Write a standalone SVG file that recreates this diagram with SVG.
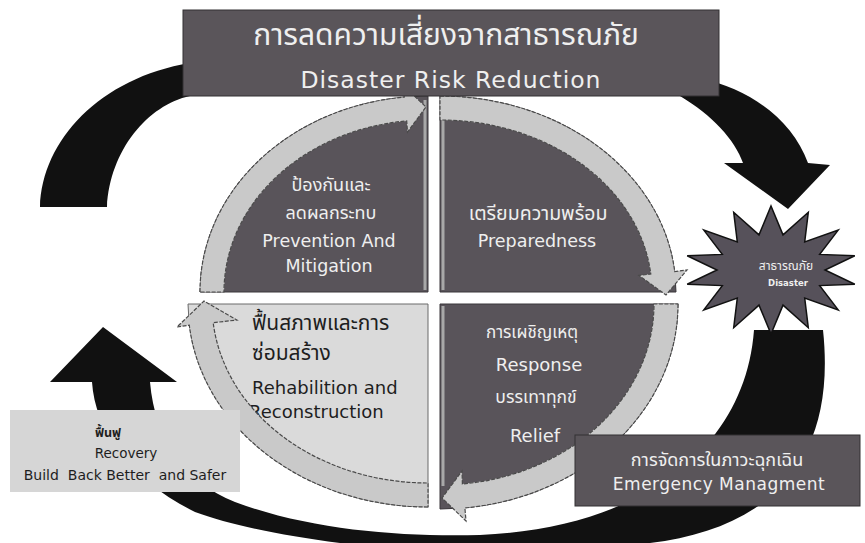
<svg xmlns="http://www.w3.org/2000/svg" width="865" height="543" viewBox="0 0 865 543">
<style>
.dark{fill:#59545a;stroke:#3a373b;stroke-width:1}
.light{fill:#dadada;stroke:#6a6a6a;stroke-width:1}
.rib{fill:#c9c9c9;stroke:#4a4a4a;stroke-width:1.2;stroke-dasharray:4 1.5}
.strip{stroke:#a8a8a8;stroke-width:3}
.blk{fill:#111111}
.box{fill:#5a555a;stroke:#333033;stroke-width:1}
.th{font-family:"Noto Sans Thai","Tahoma","Loma","Garuda","Noto Sans","DejaVu Sans",sans-serif}
.en{font-family:"DejaVu Sans","Liberation Sans",sans-serif}
.w{fill:#efefef}
.k{fill:#1e1e1e}
text{text-anchor:middle}
</style>
<rect width="865" height="543" fill="#ffffff"/>

<g id="connectors">
  <path class="blk" d="M 40 207 C 42 140 100 78 190 63 L 190 96 C 148 105 110 150 107 207 Z"/>
  <path class="blk" d="M 680 96 L 700 78 C 752 90 792 120 808 163 L 830 165 L 788 209 L 724 163 L 743 163 C 735 140 712 115 680 96 Z"/>
  <path class="blk" d="M 103 327 L 177 382 L 150 382 C 155 440 185 482 235 502 C 310 530 400 537 480 535 C 640 528 745 450 754 330 L 823 330 C 838 470 760 530 650 543 C 560 562 420 563 340 543 C 280 535 230 525 195 512 C 130 480 95 430 92 382 L 50 382 Z"/>
</g>

<g id="prevention">
  <path class="dark" d="M 428 292 L 200 292 A 228 196 0 0 1 428 96 Z"/>
  <line class="strip" x1="425" y1="100" x2="425" y2="290"/>
  <path class="rib" d="M 200 292 A 228 196 0 0 1 404.2 97.1 L 403.5 86 L 426 107 L 407.5 132 L 406.7 120.9 A 204 172 0 0 0 224 292 Z"/>
  <text class="th w" x="331" y="191" font-size="18">ป้องกันและ</text>
  <text class="th w" x="331" y="219" font-size="18">ลดผลกระทบ</text>
  <text class="en w" x="329" y="247" font-size="17.5">Prevention And</text>
  <text class="en w" x="329" y="272" font-size="17.5">Mitigation</text>
</g>

<g id="preparedness">
  <path class="dark" d="M 440 292 L 440 96 A 236 196 0 0 1 676 292 Z"/>
  <line class="strip" x1="443" y1="118" x2="443" y2="290"/>
  <path class="rib" d="M 440 96 A 236 196 0 0 1 674.7 271.5 L 687 270 L 666 295 L 639 275.5 L 650.8 274 A 212 172 0 0 0 440 120 Z"/>
  <text class="th w" x="538" y="220" font-size="19.5">เตรียมความพร้อม</text>
  <text class="en w" x="537" y="247" font-size="17.5">Preparedness</text>
</g>

<g id="response">
  <path class="dark" d="M 440 304 L 678 304 A 238 205 0 0 1 440 509 Z"/>
  <line class="strip" x1="443" y1="306" x2="443" y2="486"/>
  <path class="rib" d="M 678 304 A 238 205 0 0 1 464.9 507.9 L 466 521 L 442 498 L 462 471 L 462.4 484 A 214 181 0 0 0 654 304 Z"/>
  <text class="th w" x="532" y="338" font-size="17">การเผชิญเหตุ</text>
  <text class="en w" x="539" y="371" font-size="18">Response</text>
  <text class="th w" x="536" y="403" font-size="17.5">บรรเทาทุกข์</text>
  <text class="en w" x="535" y="442" font-size="18">Relief</text>
</g>

<g id="rehabilitation">
  <path class="light" d="M 428 304 L 428 507 A 240 203 0 0 1 188 304 Z"/>
  <text class="th k" x="252" y="330" font-size="21" style="text-anchor:start">ฟื้นสภาพและการ</text>
  <text class="th k" x="252" y="360" font-size="21" style="text-anchor:start">ซ่อมสร้าง</text>
  <text class="en k" x="252" y="394" font-size="18" style="text-anchor:start">Rehabilition and</text>
  <text class="en k" x="249" y="418" font-size="18" style="text-anchor:start">Reconstruction</text>
  <path class="rib" d="M 428 507 A 240 203 0 0 1 189.3 325.2 L 177 327 L 204 301 L 237 320 L 213.2 322.7 A 216 179 0 0 0 428 483 Z"/>
</g>

<g id="title">
  <rect class="box" x="183" y="10" width="536" height="86"/>
  <text class="th w" x="446" y="45" font-size="30">การลดความเสี่ยงจากสาธารณภัย</text>
  <text class="en w" x="451" y="88" font-size="23.5" letter-spacing="1">Disaster Risk Reduction</text>
</g>

<g id="disaster">
  <polygon fill="#56515a" stroke="#111" stroke-width="1.5" points="771,206 783,234.9 808.3,212.3 804.7,241.9 838.2,230.1 819.7,254.4 854.8,255.8 825,270 854.8,284.2 819.7,285.6 838.2,309.9 804.7,298.1 808.3,327.7 783,305.1 771,334 759,305.1 733.7,327.7 737.3,298.1 703.8,309.9 722.3,285.6 687.2,284.2 717,270 687.2,255.8 722.3,254.4 703.8,230.1 737.3,241.9 733.7,212.3 759,234.9"/>
  <text class="th w" x="786" y="270" font-size="12">สาธารณภัย</text>
  <text class="en w" x="788" y="286" font-size="8.5" font-weight="bold">Disaster</text>
</g>

<g id="emergency">
  <rect class="box" x="575" y="435" width="285" height="71"/>
  <text class="th w" x="717" y="466" font-size="18">การจัดการในภาวะฉุกเฉิน</text>
  <text class="en w" x="719" y="490" font-size="17" letter-spacing="0.5">Emergency Managment</text>
</g>

<g id="recovery">
  <rect x="10" y="410" width="230" height="82" fill="#d6d6d6"/>
  <text class="th k" x="108" y="437" font-size="12.5" font-weight="bold">ฟื้นฟู</text>
  <text class="en k" x="126" y="458" font-size="13.5">Recovery</text>
  <text class="en k" x="125" y="480" font-size="14" xml:space="preserve">Build  Back Better  and Safer</text>
</g>
</svg>
